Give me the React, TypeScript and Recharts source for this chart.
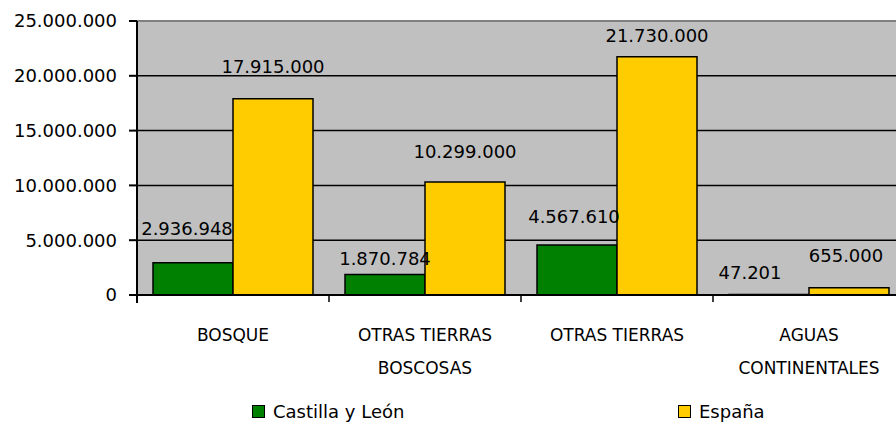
import { BarChart, Bar, XAxis, YAxis, CartesianGrid, Legend, LabelList, ReferenceLine } from 'recharts';

const categories = ['BOSQUE', 'OTRAS TIERRAS BOSCOSAS', 'OTRAS TIERRAS', 'AGUAS CONTINENTALES'];
const castillaYLeon = [2936948, 1870784, 4567610, 47201];
const espana = [17915000, 10299000, 21730000, 655000];
const yTicks = [0, 5000000, 10000000, 15000000, 20000000, 25000000];

// label placement as in the original chart (px above the bar top / sideways nudge)
const cylLabelLift = [34, 16, 28, 22];
const cylLabelShift = [-6, 0, -3, -19];
const espLabelLift = [32, 31, 21, 32];
const espLabelShift = [0, 0, 0, -3];

const GREEN = '#008000';
const YELLOW = '#FFCC00';
const FONT = '"DejaVu Sans", sans-serif';

const data = categories.map((name, i) => ({ name, cyl: castillaYLeon[i], esp: espana[i] }));

const fmt = (v: number) => String(v).replace(/\B(?=(\d{3})+(?!\d))/g, '.');

// greedy word wrap, like the excel axis labels
const wrap = (s: string, max = 14) => {
  const out: string[] = [];
  let cur = '';
  for (const w of s.split(' ')) {
    if (cur && (cur + ' ' + w).length > max) {
      out.push(cur);
      cur = w;
    } else {
      cur = cur ? cur + ' ' + w : w;
    }
  }
  if (cur) out.push(cur);
  return out;
};

const makeLabel = (lift: number[], shift: number[]) => (props: any) => {
  const { x, y, width, value, index } = props;
  return (
    <text
      x={x + width / 2 + shift[index]}
      y={y - lift[index]}
      textAnchor="middle"
      dominantBaseline="central"
      fontSize={18}
      fontFamily={FONT}
      fill="#000"
    >
      {fmt(value)}
    </text>
  );
};

const CategoryTick = (props: any) => {
  const { x, y, payload, index, width } = props;
  const half = width / categories.length / 2;
  const lines = wrap(payload.value);
  return (
    <g>
      <line x1={x + half} x2={x + half} y1={y} y2={y + 7} stroke="#000" strokeWidth={1.5} />
      {index === 0 && <line x1={x - half} x2={x - half} y1={y} y2={y + 8} stroke="#000" strokeWidth={2} />}
      {lines.map((l, i) => (
        <text
          key={i}
          x={x}
          y={y + 40 + i * 33}
          textAnchor="middle"
          dominantBaseline="central"
          fontSize={17}
          fontFamily={FONT}
          fill="#000"
        >
          {l}
        </text>
      ))}
    </g>
  );
};

const renderLegend = (props: any) => {
  const { payload } = props;
  const lefts = [252, 678];
  return (
    <div style={{ position: 'relative', height: 26, fontFamily: FONT, fontSize: 18 }}>
      {payload.map((entry: any, i: number) => (
        <div
          key={entry.value}
          style={{ position: 'absolute', left: lefts[i], top: 0, display: 'flex', alignItems: 'center', color: '#000' }}
        >
          <span
            style={{
              display: 'inline-block',
              width: 11,
              height: 11,
              background: entry.color,
              border: '1.5px solid #000',
              marginRight: 8,
            }}
          />
          {entry.value}
        </div>
      ))}
    </div>
  );
};

export default function App() {
  return (
    <div style={{ position: 'fixed', left: 0, top: 0, width: 896, height: 423, overflow: 'hidden', background: '#fff' }}>
      <BarChart
        width={960}
        height={423}
        data={data}
        margin={{ top: 21, right: 55, left: 0, bottom: 8 }}
        barCategoryGap={16}
        barGap={0}
      >
        <CartesianGrid vertical={false} stroke="#000" strokeWidth={1.5} fill="#C0C0C0" fillOpacity={1} />
        <ReferenceLine y={25000000} stroke="#808080" strokeWidth={2} />
        <XAxis
          dataKey="name"
          height={80}
          tickLine={false}
          tickSize={0}
          tickMargin={0}
          axisLine={{ stroke: '#000', strokeWidth: 2 }}
          tick={<CategoryTick />}
          interval={0}
        />
        <YAxis
          width={137}
          domain={[0, 25000000]}
          ticks={yTicks}
          tickFormatter={fmt}
          tickSize={8}
          tickMargin={12}
          tickLine={{ stroke: '#000', strokeWidth: 2 }}
          axisLine={{ stroke: '#000', strokeWidth: 2 }}
          tick={{ fill: '#000', fontSize: 18, fontFamily: FONT }}
        />
        <Legend
          verticalAlign="bottom"
          content={renderLegend}
          wrapperStyle={{ height: 40, top: 401, left: 0, width: 960 }}
        />
        <Bar dataKey="cyl" name="Castilla y León" fill={GREEN} stroke="#000" strokeWidth={1.5} isAnimationActive={false}>
          <LabelList dataKey="cyl" content={makeLabel(cylLabelLift, cylLabelShift)} />
        </Bar>
        <Bar dataKey="esp" name="España" fill={YELLOW} stroke="#000" strokeWidth={1.5} isAnimationActive={false}>
          <LabelList dataKey="esp" content={makeLabel(espLabelLift, espLabelShift)} />
        </Bar>
      </BarChart>
    </div>
  );
}
